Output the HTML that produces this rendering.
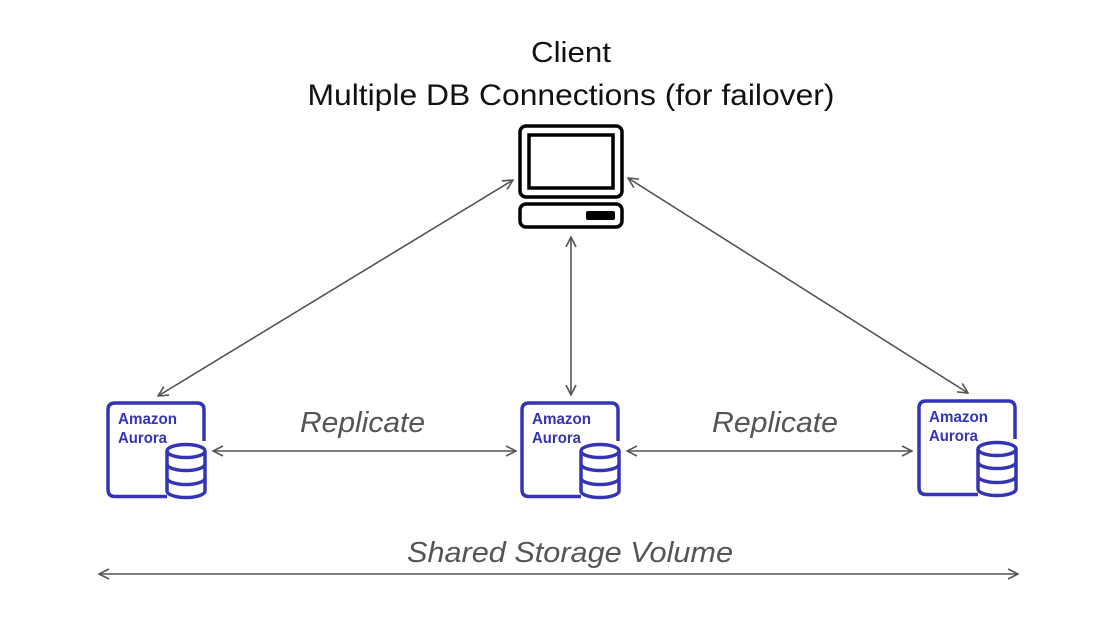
<!DOCTYPE html>
<html><head><style>html,body{margin:0;padding:0;background:#fff;}svg{display:block}</style></head>
<body>
<svg width="1104" height="632" viewBox="0 0 1104 632" xmlns="http://www.w3.org/2000/svg">
<defs>
<marker id="a" viewBox="0 0 12 12" refX="11" refY="6" markerWidth="12" markerHeight="12" markerUnits="userSpaceOnUse" orient="auto-start-reverse">
<path d="M1,1 L11,6 L1,11" fill="none" stroke="#555" stroke-width="1.6"/>
</marker>
<g id="ic">
<path d="M61,95.5 L9,95.5 Q2,95.5 2,88.5 L2,9 Q2,2 9,2 L91,2 Q98,2 98,9 L98,40" fill="none" stroke="#3434b4" stroke-width="3.5"/>
<g fill="#fff" stroke="#3434b4" stroke-width="3.5">
<path d="M61,50 L61,90 A19,6.5 0 0 0 99,90 L99,50"/>
<ellipse cx="80" cy="50" rx="19" ry="6.5"/>
<path d="M61,63 A19,6.5 0 0 0 99,63 M61,77 A19,6.5 0 0 0 99,77" fill="none"/>
</g>
</g>
</defs>
<g font-family="Liberation Sans, sans-serif" fill="#111">
<text x="571" y="62" font-size="29" text-anchor="middle" textLength="80" lengthAdjust="spacingAndGlyphs">Client</text>
<text x="571" y="105" font-size="30" text-anchor="middle" textLength="527" lengthAdjust="spacingAndGlyphs">Multiple DB Connections (for failover)</text>
</g>
<g font-family="Liberation Sans, sans-serif" font-style="italic" fill="#555" font-size="29">
<text x="300" y="432" textLength="125" lengthAdjust="spacingAndGlyphs">Replicate</text>
<text x="712" y="432" textLength="126" lengthAdjust="spacingAndGlyphs">Replicate</text>
<text x="407" y="562" textLength="326" lengthAdjust="spacingAndGlyphs">Shared Storage Volume</text>
</g>
<g fill="none" stroke="#000" stroke-width="3.5">
<rect x="520" y="126" width="102" height="71" rx="6"/>
<rect x="529" y="135" width="84" height="53"/>
<rect x="520" y="204" width="102" height="23" rx="6"/>
</g>
<rect x="586" y="211" width="29" height="9" rx="2" fill="#000"/>
<g stroke="#555" stroke-width="1.6" fill="none" marker-start="url(#a)" marker-end="url(#a)">
<line x1="513" y1="180" x2="158" y2="396"/>
<line x1="628" y1="178" x2="968" y2="393"/>
<line x1="571" y1="237" x2="571" y2="395"/>
<line x1="213" y1="451" x2="516" y2="451"/>
<line x1="627" y1="451" x2="912" y2="451"/>
<line x1="99" y1="574" x2="1018" y2="574"/>
</g>
<g font-family="Liberation Sans, sans-serif" font-weight="bold" font-size="16" fill="#3434b4">
<use href="#ic" x="106" y="401"/>
<text x="118" y="424" textLength="59" lengthAdjust="spacingAndGlyphs">Amazon</text>
<text x="118" y="443" textLength="49" lengthAdjust="spacingAndGlyphs">Aurora</text>
<use href="#ic" x="520" y="401"/>
<text x="532" y="424" textLength="59" lengthAdjust="spacingAndGlyphs">Amazon</text>
<text x="532" y="443" textLength="49" lengthAdjust="spacingAndGlyphs">Aurora</text>
<use href="#ic" x="917" y="399"/>
<text x="929" y="422" textLength="59" lengthAdjust="spacingAndGlyphs">Amazon</text>
<text x="929" y="441" textLength="49" lengthAdjust="spacingAndGlyphs">Aurora</text>
</g>
</svg>
</body></html>
